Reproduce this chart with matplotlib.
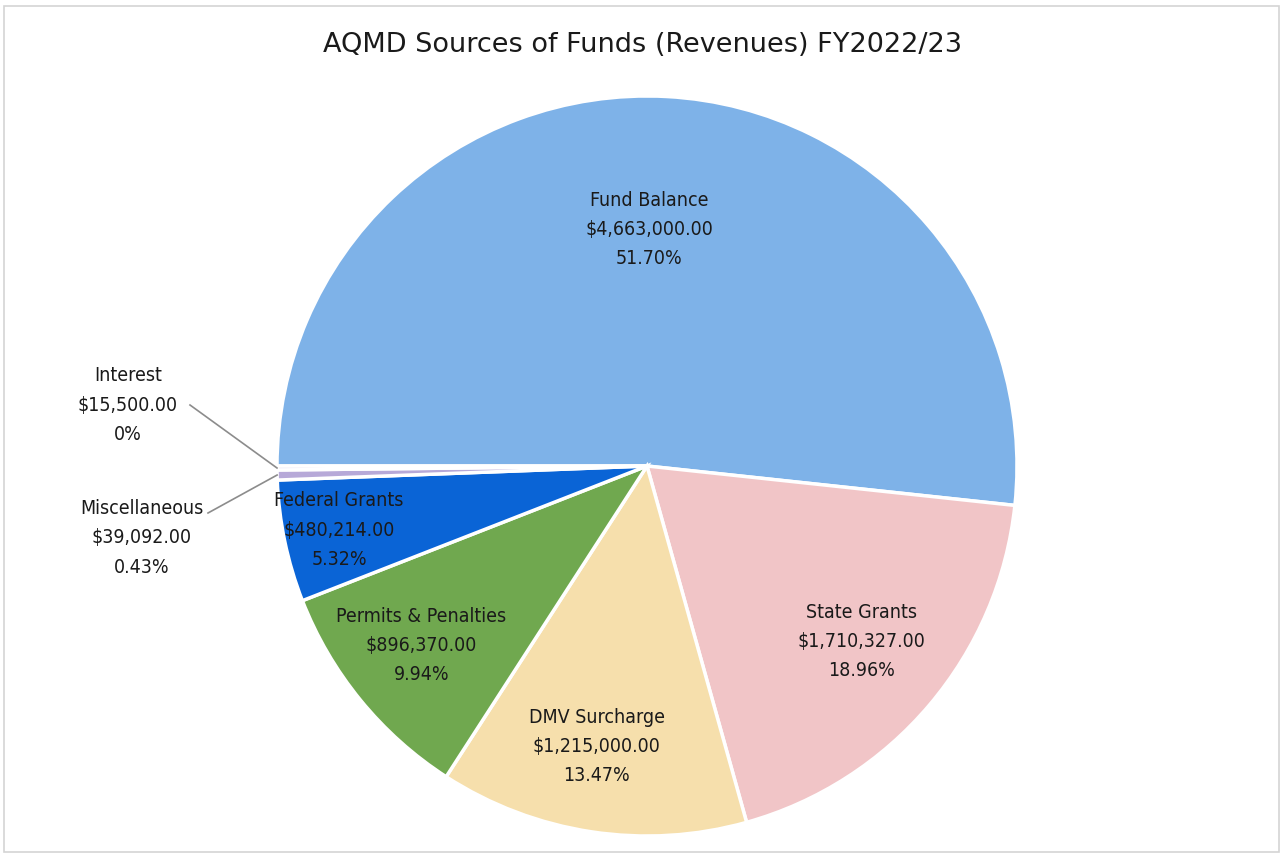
import numpy as np
import matplotlib.pyplot as plt
from matplotlib.patches import Rectangle

plt.rcParams['font.family'] = ['DejaVu Sans']

# Data
labels = ['Fund Balance', 'State Grants', 'DMV Surcharge', 'Permits & Penalties',
          'Federal Grants', 'Miscellaneous', 'Interest']
amounts = [4663000.00, 1710327.00, 1215000.00, 896370.00, 480214.00, 39092.00, 15500.00]
pct_text = ['51.70%', '18.96%', '13.47%', '9.94%', '5.32%', '0.43%', '0%']
colors = ['#7eb2e8', '#f1c5c7', '#f6dfac', '#70a84f', '#0a64d6', '#b7a9d8', '#e4def0']

W, H = 1283, 858
fig = plt.figure(figsize=(W / 100, H / 100), dpi=100)
ax = fig.add_axes([0, 0, 1, 1])

cx, cy, R = 647, H - 466, 370
wedges, _ = ax.pie(amounts, colors=colors, startangle=180, counterclock=False,
                   center=(cx, cy), radius=R, frame=True,
                   wedgeprops=dict(edgecolor='white', linewidth=2.5))
ax.set_xlim(0, W)
ax.set_ylim(0, H)
ax.set_aspect('equal')
ax.axis('off')

# outer frame
fig.patches.append(Rectangle((4 / W, 6 / H), 1 - 8 / W, 1 - 12 / H, transform=fig.transFigure,
                             fill=False, edgecolor='#d4d4d4', linewidth=1.2))

ax.text(W / 2 + 1, H - 45, 'AQMD Sources of Funds (Revenues) FY2022/23', ha='center', va='center',
        fontsize=19.5, color='#1a1a1a')

def fmt(v):
    return '${:,.2f}'.format(v)

lab_font = dict(fontsize=14, fontstretch='condensed', linespacing=1.68, color='#1a1a1a')

# inside labels: (radius fraction, angle tweak in degrees) per wedge
place = [(0.64, 2.5), (0.75, 1), (0.77, -1.5), (0.78, -0.7), (0.85, 0)]
for i in range(5):
    w = wedges[i]
    ang = np.deg2rad((w.theta1 + w.theta2) / 2 + place[i][1])
    x = cx + place[i][0] * R * np.cos(ang)
    y = cy + place[i][0] * R * np.sin(ang)
    ax.text(x, y, '%s\n%s\n%s' % (labels[i], fmt(amounts[i]), pct_text[i]),
            ha='center', va='center', **lab_font)

# outside labels with leader lines
outside = {5: (142, H - 538, 208, H - 513), 6: (128, H - 405, 190, H - 405)}
for i, (tx, ty, lx, ly) in outside.items():
    w = wedges[i]
    ang = np.deg2rad((w.theta1 + w.theta2) / 2)
    ex = cx + R * np.cos(ang)
    ey = cy + R * np.sin(ang)
    ax.text(tx, ty, '%s\n%s\n%s' % (labels[i], fmt(amounts[i]), pct_text[i]),
            ha='center', va='center', **lab_font)
    ax.plot([lx, ex], [ly, ey], color='#8c8c8c', linewidth=1.2)

fig.savefig('out.png', dpi=100)
